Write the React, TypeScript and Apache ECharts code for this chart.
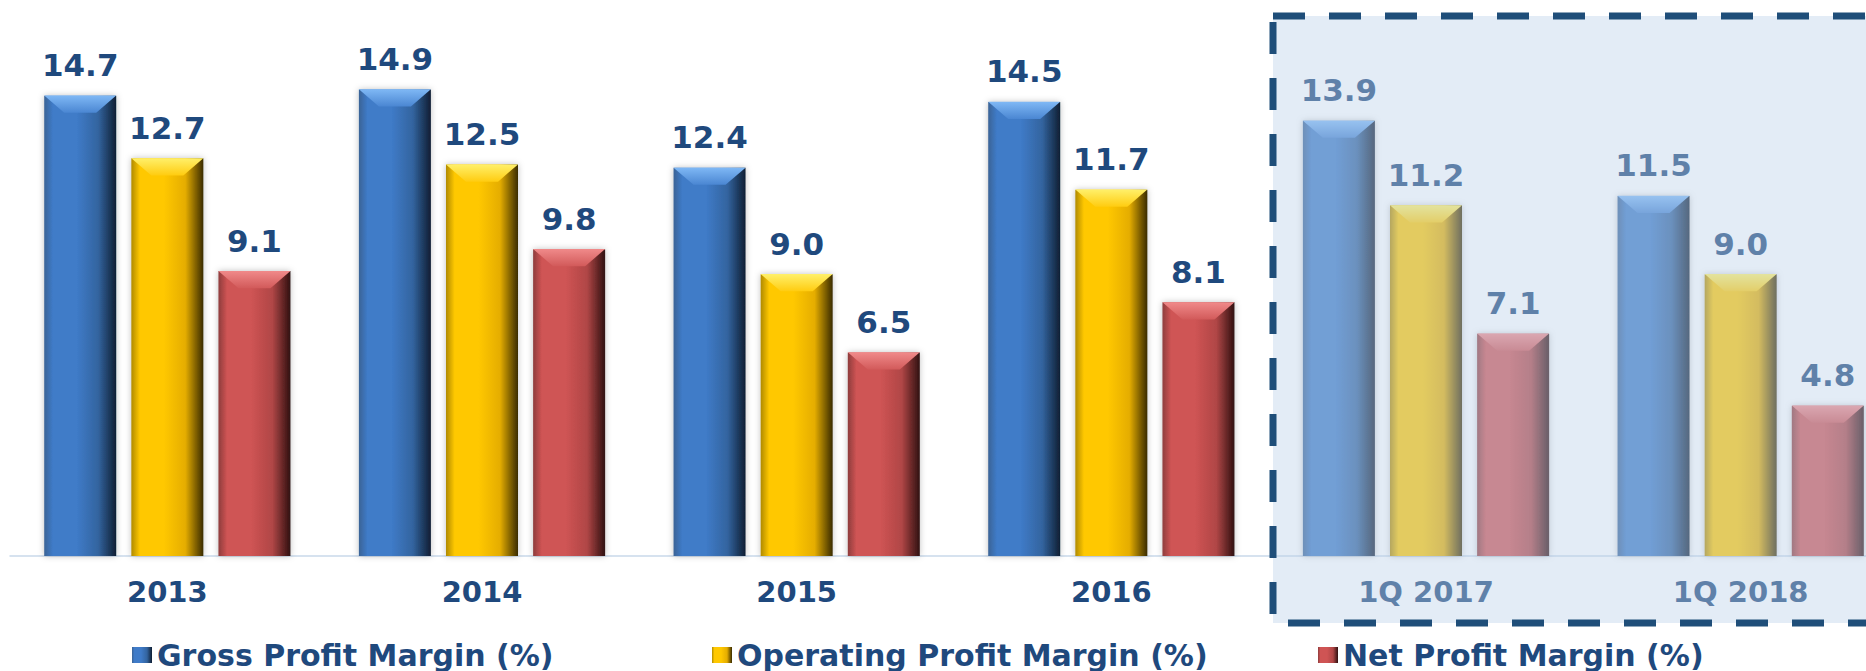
import React, { useEffect, useRef } from "react";
import * as echarts from "echarts";

const categories = ["2013", "2014", "2015", "2016", "1Q 2017", "1Q 2018"];
const grossMargin = [14.7, 14.9, 12.4, 14.5, 13.9, 11.5];
const operatingMargin = [12.7, 12.5, 9.0, 11.7, 11.2, 9.0];
const netMargin = [9.1, 9.8, 6.5, 8.1, 7.1, 4.8];
const seriesNames = [
  "Gross Profit Margin (%)",
  "Operating Profit Margin (%)",
  "Net Profit Margin (%)",
];

const TEXT_COLOR = "#1f497d";
const FONT = "'DejaVu Sans', Verdana, sans-serif";

function barGradient(edgeL: string, mid: string, mid2: string, edgeR: string) {
  return new echarts.graphic.LinearGradient(0, 0, 1, 0, [
    { offset: 0, color: edgeL },
    { offset: 0.12, color: mid },
    { offset: 0.45, color: mid },
    { offset: 0.75, color: mid2 },
    { offset: 1, color: edgeR },
  ]);
}

function capGradient(top: string, bottom: string) {
  return new echarts.graphic.LinearGradient(0, 0, 0, 1, [
    { offset: 0, color: top },
    { offset: 1, color: bottom },
  ]);
}

export default function App() {
  const ref = useRef<HTMLDivElement>(null);

  useEffect(() => {
    if (!ref.current) return;
    const chart = echarts.init(ref.current, undefined, { renderer: "svg" });

    const colors = [
      barGradient("#3a6396", "#3f7bc8", "#33649f", "#0f1e33"),
      barGradient("#b08a00", "#ffc800", "#e5ad00", "#3a2c00"),
      barGradient("#8e3c3c", "#cf5454", "#b04646", "#301010"),
    ];
    const caps = [
      capGradient("#7fb8f5", "#4a86d2"),
      capGradient("#fff06a", "#ffcc10"),
      capGradient("#f08a8a", "#d25a5a"),
    ];
    const datas = [grossMargin, operatingMargin, netMargin];

    const barSeries = datas.map((d, i) => ({
      name: seriesNames[i],
      type: "bar",
      data: d,
      barWidth: 72,
      barGap: "21%",
      itemStyle: {
        color: colors[i],
        shadowBlur: 6,
        shadowColor: "rgba(0,0,0,0.25)",
      },
      label: {
        show: true,
        position: "top",
        distance: 15,
        formatter: (p: any) => Number(p.value).toFixed(1),
        color: TEXT_COLOR,
        fontFamily: FONT,
        fontWeight: "bold",
        fontSize: 31,
      },
    }));

    const capSeries = datas.map((d, i) => ({
      name: seriesNames[i],
      type: "pictorialBar",
      data: d,
      barWidth: 72,
      barGap: "21%",
      symbol: "path://M0,0 L72,0 L52,17 L20,17 Z",
      symbolSize: [72, 17],
      symbolPosition: "end",
      symbolOffset: [0, 0],
      z: 3,
      silent: true,
      itemStyle: { color: caps[i] },
    }));

    const legendBase = {
      top: 640,
      padding: 0,
      itemWidth: 20,
      itemHeight: 16,
      icon: "rect",
      textStyle: {
        color: TEXT_COLOR,
        fontFamily: FONT,
        fontWeight: "bold" as const,
        fontSize: 30,
      },
    };

    chart.setOption({
      animation: false,
      backgroundColor: "#ffffff",
      grid: {
        left: 10,
        width: 1888,
        top: 55,
        bottom: 115,
        outerBoundsMode: "none",
        containLabel: false,
      },
      legend: [
        { ...legendBase, left: 132, data: [seriesNames[0]] },
        { ...legendBase, left: 712, data: [seriesNames[1]] },
        { ...legendBase, left: 1318, data: [seriesNames[2]] },
      ],
      xAxis: {
        type: "category",
        data: categories,
        axisLine: { lineStyle: { color: "#c9d9ea", width: 1.5 } },
        axisTick: { show: false },
        axisLabel: {
          color: TEXT_COLOR,
          fontFamily: FONT,
          fontWeight: "bold",
          fontSize: 29,
          margin: 21,
        },
      },
      yAxis: {
        type: "value",
        min: 0,
        max: 16,
        show: false,
        splitLine: { show: false },
      },
      series: [...barSeries, ...capSeries],
      graphic: [
        {
          type: "rect",
          z: 100,
          silent: true,
          shape: { x: 1273, y: 16, width: 700, height: 607 },
          style: {
            fill: "rgba(188,210,232,0.41)",
            stroke: "#1f4e79",
            lineWidth: 7,
            lineDash: [32, 24],
          },
        },
      ],
    });

    return () => chart.dispose();
  }, []);

  return (
    <div
      ref={ref}
      style={{ position: "absolute", left: 0, top: 0, width: 1866, height: 671 }}
    />
  );
}
